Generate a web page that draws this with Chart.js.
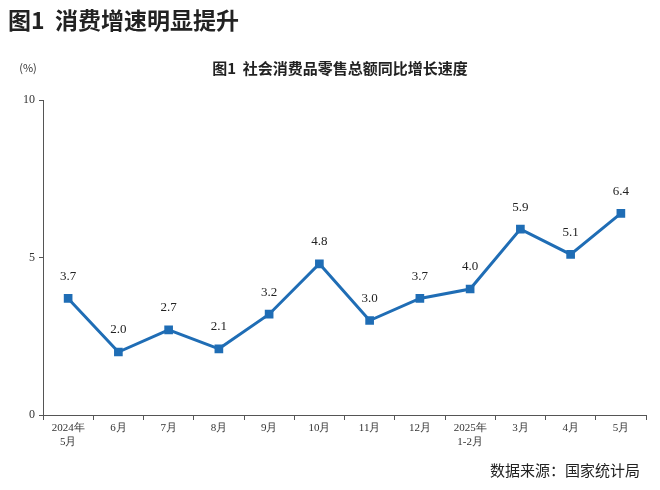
<!DOCTYPE html>
<html><head><meta charset="utf-8">
<script src="https://cdn.jsdelivr.net/npm/chart.js@4"></script>
<style>body{margin:0;background:#fff}canvas{display:block}</style>
</head><body>
<canvas id="c" width="660" height="490"></canvas>
<script>
const categories=[['2024年','5月'],'6月','7月','8月','9月','10月','11月','12月',['2025年','1-2月'],'3月','4月','5月'];
const growth=[3.7,2.0,2.7,2.1,3.2,4.8,3.0,3.7,4.0,5.9,5.1,6.4];
const yTicks=[0,5,10];
const deco={id:'deco',afterDraw(ch){const c=ch.ctx;c.save();
c.fillStyle='#222';c.font='bold 23px "Noto Sans CJK SC"';c.textBaseline='middle';c.textAlign='left';
c.fillText('图1  消费增速明显提升',8,20);
c.font='bold 15px "Noto Sans CJK SC"';c.textAlign='center';c.fillText('图1  社会消费品零售总额同比增长速度',340,68);
c.font='11px "Noto Sans CJK SC"';c.fillStyle='#333';c.fillText('(%)',28,68);
c.font='15px "Noto Sans CJK SC"';c.textAlign='right';c.fillStyle='#222';c.fillText('数据来源：国家统计局',640,470);
const m=ch.getDatasetMeta(0);c.font='13px serif';c.fillStyle='#222';c.textAlign='center';
m.data.forEach((p,i)=>c.fillText(growth[i].toFixed(1),p.x,p.y-22));
c.restore();}};
new Chart(document.getElementById('c'),{type:'line',
data:{labels:categories,datasets:[{data:growth,borderColor:'#1f6db5',backgroundColor:'#1f6db5',borderWidth:3,pointStyle:'rect',pointRadius:4,tension:0}]},
options:{responsive:false,animation:false,layout:{padding:{top:100,right:14,left:0,bottom:0}},
plugins:{legend:{display:false},tooltip:{enabled:false}},
scales:{
y:{min:0,max:10,afterFit(s){s.width=43},afterBuildTicks(s){s.ticks=yTicks.map(v=>({value:v}))},
grid:{drawOnChartArea:false,tickLength:4,color:'#555'},border:{color:'#555'},ticks:{color:'#333',font:{family:'serif',size:12},padding:4}},
x:{offset:true,afterFit(s){s.height=75},grid:{offset:true,drawOnChartArea:false,tickLength:5,color:'#555'},border:{color:'#555'},
ticks:{color:'#333',maxRotation:0,autoSkip:false,font:{family:'serif',size:11},padding:2}}}},
plugins:[deco]});
</script></body></html>
